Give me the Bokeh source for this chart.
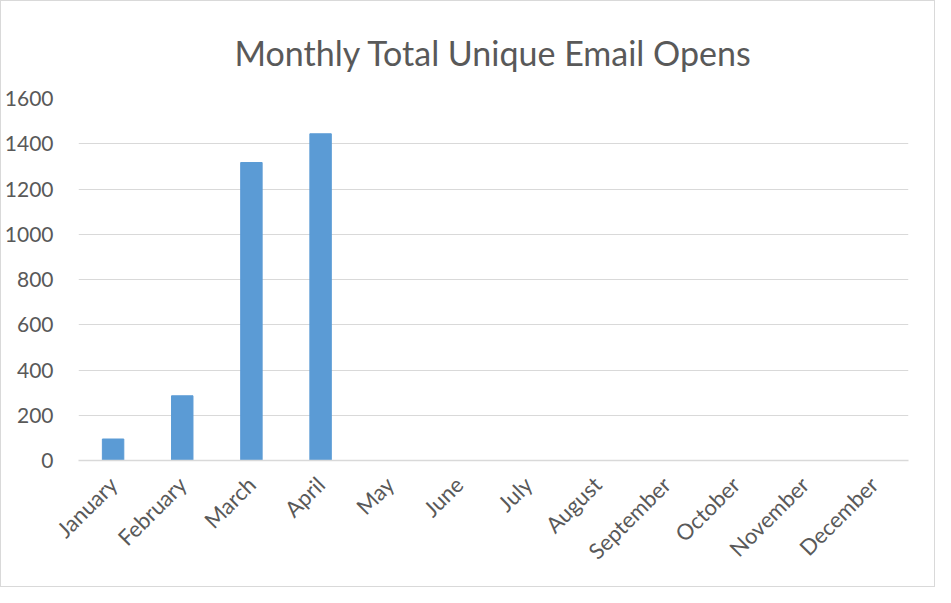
from bokeh.plotting import figure
from bokeh.models import FactorRange, Range1d
from bokeh.embed import file_html
from bokeh.resources import INLINE
from math import pi

months = ["January", "February", "March", "April", "May", "June", "July",
          "August", "September", "October", "November", "December"]
opens = [95, 286, 1317, 1444, 0, 0, 0, 0, 0, 0, 0, 0]
y_ticks = [0, 200, 400, 600, 800, 1000, 1200, 1400, 1600]

FONT = "Lato"
GREY = "#595959"

p = figure(width=935, height=587, output_backend="svg", toolbar_location=None,
           x_range=FactorRange(*months, range_padding=0),
           y_range=Range1d(0, 1600),
           title="Monthly Total Unique Email Opens",
           min_border_left=75, min_border_right=28,
           min_border_bottom=128, min_border_top=97)

p.vbar(x=months, top=opens, width=0.31, color="#5B9BD5")

p.title.align = "center"
p.title.offset = -20
p.title.text_font = FONT
p.title.text_font_size = "34px"
p.title.text_font_style = "normal"
p.title.text_color = GREY
p.title.standoff = 52

p.outline_line_color = None
p.xgrid.grid_line_color = None
p.ygrid.grid_line_color = "#D9D9D9"
p.ygrid.grid_line_width = 1

p.yaxis.ticker = y_ticks
p.yaxis.axis_line_color = None
p.yaxis.major_tick_line_color = None
p.yaxis.minor_tick_line_color = None
p.yaxis.major_label_text_font = FONT
p.yaxis.major_label_text_font_size = "21px"
p.yaxis.major_label_text_color = GREY
p.yaxis.major_label_standoff = 19

p.xaxis.axis_line_color = "#D9D9D9"
p.xaxis.axis_line_width = 1.5
p.xaxis.major_tick_line_color = None
p.xaxis.minor_tick_line_color = None
p.xaxis.major_label_orientation = pi / 4
p.xaxis.major_label_text_font = FONT
p.xaxis.major_label_text_font_size = "22px"
p.xaxis.major_label_text_color = GREY
p.xaxis.major_label_standoff = 14

p.styles = {"border": "1px solid #D9D9D9", "box-sizing": "border-box"}

open("out.html", "w").write(file_html(p, INLINE))
